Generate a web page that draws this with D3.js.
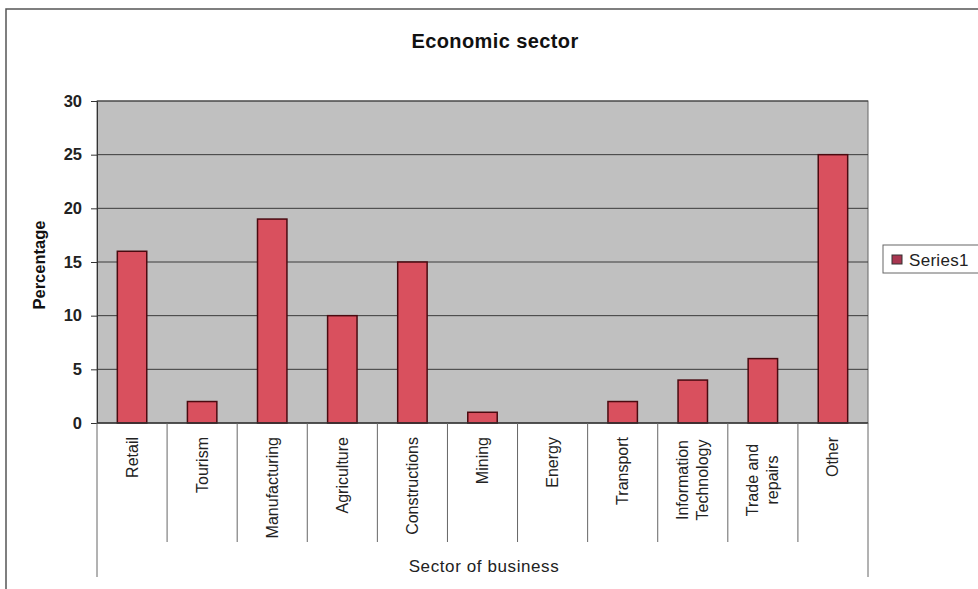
<!DOCTYPE html>
<html><head><meta charset="utf-8">
<script src="https://cdn.jsdelivr.net/npm/d3@7"></script>
<style>body{margin:0;background:#fff;}svg{display:block;font-family:Arial,"Liberation Sans",sans-serif;}</style>
</head><body>
<svg id="c" width="978" height="589"></svg>
<script>
const categories = [["Retail"],["Tourism"],["Manufacturing"],["Agriculture"],["Constructions"],["Mining"],["Energy"],["Transport"],["Information","Technology"],["Trade and","repairs"],["Other"]];
const values = [16, 2, 19, 10, 15, 1, 0, 2, 4, 6, 25];
const yTicks = [0, 5, 10, 15, 20, 25, 30];
const seriesName = "Series1";

const svg = d3.select("#c");
const m = {l: 97, r: 868, t: 101, b: 423};
// outer frame
svg.append("path").attr("d","M6,589V9H978").attr("fill","none").attr("stroke","#555").attr("stroke-width",1.5);

const x = d3.scaleBand().domain(d3.range(categories.length)).range([m.l, m.r]).paddingInner(0).paddingOuter(0);
const y = d3.scaleLinear().domain([0, 30]).range([m.b, m.t]);

svg.append("rect").attr("x", m.l).attr("y", m.t).attr("width", m.r - m.l).attr("height", m.b - m.t).attr("fill", "#c0c0c0").attr("stroke", "#666");

// gridlines
svg.append("g").selectAll("line").data(yTicks.filter(d => d > 0)).join("line")
  .attr("x1", m.l).attr("x2", m.r).attr("y1", d => y(d)).attr("y2", d => y(d)).attr("stroke", "#3a3a3a").attr("stroke-width", 1);

// y axis
const ya = svg.append("g").attr("transform", `translate(${m.l},0)`).call(d3.axisLeft(y).tickValues(yTicks).tickSize(6).tickPadding(9));
ya.select(".domain").attr("stroke", "#333");
ya.selectAll(".tick line").attr("stroke", "#333");
ya.selectAll("text").attr("font-size", 16.5).attr("font-weight", "bold").attr("fill", "#222");

// bars
const bw = x.bandwidth() * 0.42;
svg.append("g").selectAll("rect").data(values).join("rect")
  .attr("x", (d, i) => x(i) + (x.bandwidth() - bw) / 2)
  .attr("y", d => y(d)).attr("width", bw).attr("height", d => y(0) - y(d))
  .attr("fill", "#d9505e").attr("stroke", "#4a0a10").attr("stroke-width", 1.5)
  .attr("display", d => d > 0 ? null : "none");

// x axis line
svg.append("line").attr("x1", m.l).attr("x2", m.r).attr("y1", m.b).attr("y2", m.b).attr("stroke", "#333").attr("stroke-width", 1.5);

// category dividers
const edges = d3.range(categories.length + 1).map(i => i < categories.length ? x(i) : m.r);
svg.append("g").selectAll("line").data(edges).join("line")
  .attr("x1", d => d).attr("x2", d => d).attr("y1", m.b)
  .attr("y2", (d, i) => (i === 0 || i === categories.length) ? 577 : 542)
  .attr("stroke", "#666").attr("stroke-width", 1);

// category labels
const lg = svg.append("g");
categories.forEach((lines, i) => {
  const cx = x(i) + x.bandwidth() / 2;
  const n = lines.length;
  const t = lg.append("text").attr("transform", `translate(${cx},437) rotate(-90)`)
    .attr("text-anchor", n > 1 ? "middle" : "end").attr("font-size", 16).attr("fill", "#222");
  lines.forEach((s, k) => {
    t.append("tspan").attr("x", n > 1 ? -43 : 0).attr("y", (k - (n - 1) / 2) * 20 + 5.5).text(s);
  });
});

// titles
svg.append("text").attr("x", 495).attr("y", 48).attr("text-anchor", "middle").attr("font-size", 20).attr("letter-spacing", 0.4).attr("font-weight", "bold").attr("fill", "#111").text("Economic sector");
svg.append("text").attr("transform", "translate(45,265) rotate(-90)").attr("text-anchor", "middle").attr("font-size", 16.5).attr("font-weight", "bold").attr("fill", "#111").text("Percentage");
svg.append("text").attr("x", 484).attr("y", 572).attr("text-anchor", "middle").attr("font-size", 17).attr("letter-spacing", 0.6).attr("fill", "#222").text("Sector of business");

// legend
const leg = svg.append("g");
leg.append("rect").attr("x", 883).attr("y", 245).attr("width", 100).attr("height", 28).attr("fill", "#fff").attr("stroke", "#666");
leg.append("rect").attr("x", 892).attr("y", 255).attr("width", 10).attr("height", 9).attr("fill", "#a83650").attr("stroke", "#333");
leg.append("text").attr("x", 909).attr("y", 266).attr("font-size", 17).attr("letter-spacing", 0.3).attr("fill", "#222").text(seriesName);
</script>
</body></html>
